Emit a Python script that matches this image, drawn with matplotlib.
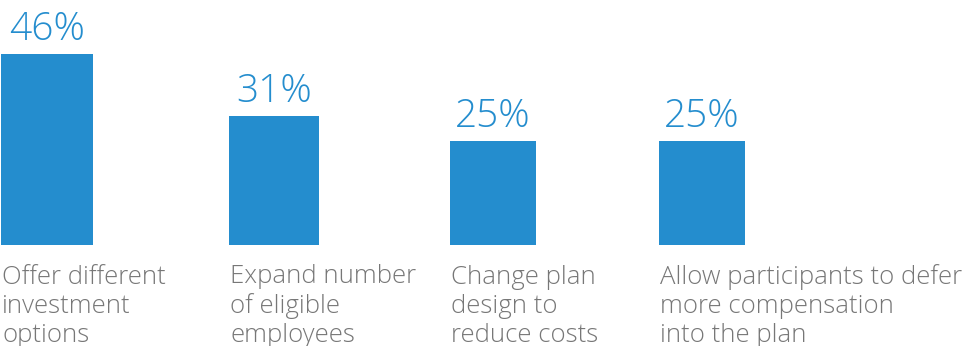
import matplotlib
matplotlib.use("Agg")
import matplotlib.pyplot as plt

# survey results
categories = [
    "Offer different\ninvestment\noptions",
    "Expand number\nof eligible\nemployees",
    "Change plan\ndesign to\nreduce costs",
    "Allow participants to defer\nmore compensation\ninto the plan",
]
values = [46, 31, 25, 25]
value_labels = ["46%", "31%", "25%", "25%"]

# layout (pixels)
bar_left = [1, 229, 450, 659]
bar_width = [92, 90, 86, 86]

BLUE = "#248dce"
GREY = "#777777"

fig = plt.figure(figsize=(9.76, 3.46), dpi=100)
base_px = 346 - 244.5
ax = fig.add_axes([0, base_px / 346, 1, 244.5 / 346])
ax.set_xlim(0, 976)
ax.set_ylim(0, 244.5 / 4.14)
ax.axis("off")

bars = ax.bar(bar_left, values, width=bar_width, align="edge", color=BLUE)

for b, lab in zip(bars, value_labels):
    ax.annotate(lab, (b.get_x() + b.get_width() / 2, b.get_height()),
                xytext=(0, 14), textcoords="offset pixels",
                ha="center", va="baseline", color=BLUE,
                fontsize=28, family="Open Sans", fontweight=300)

# va="baseline" pins the last line's baseline for multi-line text
for b, cat in zip(bars, categories):
    ax.annotate(cat, (b.get_x(), 0), xytext=(1, -97.5),
                textcoords="offset pixels", ha="left", va="baseline",
                color=GREY, fontsize=18.5, family="Open Sans",
                fontweight=300, linespacing=1.215, annotation_clip=False)

fig.savefig("out.png", dpi=100)
